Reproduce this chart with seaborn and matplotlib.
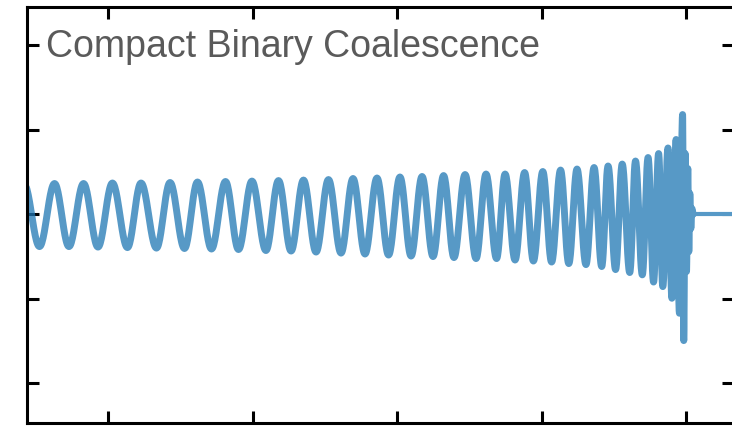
import numpy as np
import pandas as pd
import matplotlib
matplotlib.use("Agg")
import matplotlib.pyplot as plt
import seaborn as sns

# Extrema of the waveform (time in tick units, strain amplitude)
ext_t = [-4.585, -4.477, -4.373, -4.273, -4.172, -4.072, -3.972, -3.868, -3.774, -3.667,
         -3.573, -3.473, -3.383, -3.286, -3.189, -3.099, -3.006, -2.909, -2.822, -2.735,
         -2.649, -2.562, -2.476, -2.389, -2.306, -2.223, -2.140, -2.060, -1.981, -1.904,
         -1.828, -1.752, -1.679, -1.607, -1.530, -1.454, -1.385, -1.312, -1.253, -1.184,
         -1.118, -1.057, -0.992, -0.931, -0.869, -0.812, -0.755, -0.693, -0.637, -0.584,
         -0.540, -0.488, -0.442, -0.390, -0.350, -0.303, -0.263, -0.225, -0.190, -0.161,
         -0.125, -0.098, -0.069, -0.046, -0.024, -0.016, -0.006, 0.003, 0.012, 0.019,
         0.026, 0.033, 0.040, 0.050]
ext_h = [0.363, -0.382, 0.363, -0.382, 0.363, -0.388, 0.369, -0.394, 0.369, -0.400,
         0.375, -0.405, 0.381, -0.411, 0.387, -0.417, 0.392, -0.429, 0.398, -0.435,
         0.404, -0.447, 0.410, -0.459, 0.422, -0.470, 0.428, -0.482, 0.440, -0.494,
         0.446, -0.500, 0.457, -0.512, 0.469, -0.524, 0.475, -0.524, 0.475, -0.541,
         0.493, -0.553, 0.505, -0.565, 0.522, -0.583, 0.534, -0.595, 0.552, -0.618,
         0.570, -0.654, 0.593, -0.689, 0.629, -0.716, 0.670, -0.801, 0.717, -0.855,
         0.783, -0.993, 0.883, -1.170, 1.178, -1.493, 0.717, -0.677, 0.540, -0.441,
         0.245, -0.169, 0.067, 0.0]
# flat post-merger tail
tail_t = [0.050, 0.350]
tail_h = [0.0, 0.0]

x_ticks = [-4, -3, -2, -1, 0]
y_ticks = [-2, -1, 0, 1, 2]
title_text = "Compact Binary Coalescence"

# smooth half-cosine strokes between successive extrema
ts, hs = [], []
for i in range(len(ext_t) - 1):
    s = np.linspace(0, 1, 25, endpoint=False)
    w = (1 - np.cos(np.pi * s)) / 2
    ts.append(ext_t[i] + (ext_t[i + 1] - ext_t[i]) * s)
    hs.append(ext_h[i] + (ext_h[i + 1] - ext_h[i]) * w)
ts.append([ext_t[-1]]); hs.append([ext_h[-1]])
df = pd.DataFrame({"t": np.concatenate(ts), "h": np.concatenate(hs)})
df_tail = pd.DataFrame({"t": tail_t, "h": tail_h})

sns.set_style("white")
plt.rcParams['font.family'] = ['Liberation Sans', 'DejaVu Sans']

fig = plt.figure(figsize=(7.32, 4.26), dpi=100)
ax = fig.add_axes([26.5 / 732, 3 / 426, 707.5 / 732, 416.5 / 426])

sns.lineplot(data=df, x="t", y="h", sort=False, estimator=None, ax=ax,
             color="#1f77b4", alpha=0.75, linewidth=5.0)
sns.lineplot(data=df_tail, x="t", y="h", sort=False, estimator=None, ax=ax,
             color="#5799c7", linewidth=3.0)

ax.set_xlim(-4.567, 0.332)
ax.set_ylim(-2.467, 2.455)
ax.set_xticks(x_ticks)
ax.set_yticks(y_ticks)
ax.set_xticklabels([])
ax.set_yticklabels([])
ax.set_xlabel("")
ax.set_ylabel("")
ax.tick_params(direction="in", length=8.6, width=2.2, color="black",
               top=True, right=True, bottom=True, left=True)
for sp in ax.spines.values():
    sp.set_visible(True)
    sp.set_color("black")
    sp.set_linewidth(2.2)

ax.text(0.0276, 0.879, title_text, transform=ax.transAxes, ha="left", va="baseline",
        fontsize=27, color="#5a5a5a")

fig.savefig("out.png", dpi=100)
